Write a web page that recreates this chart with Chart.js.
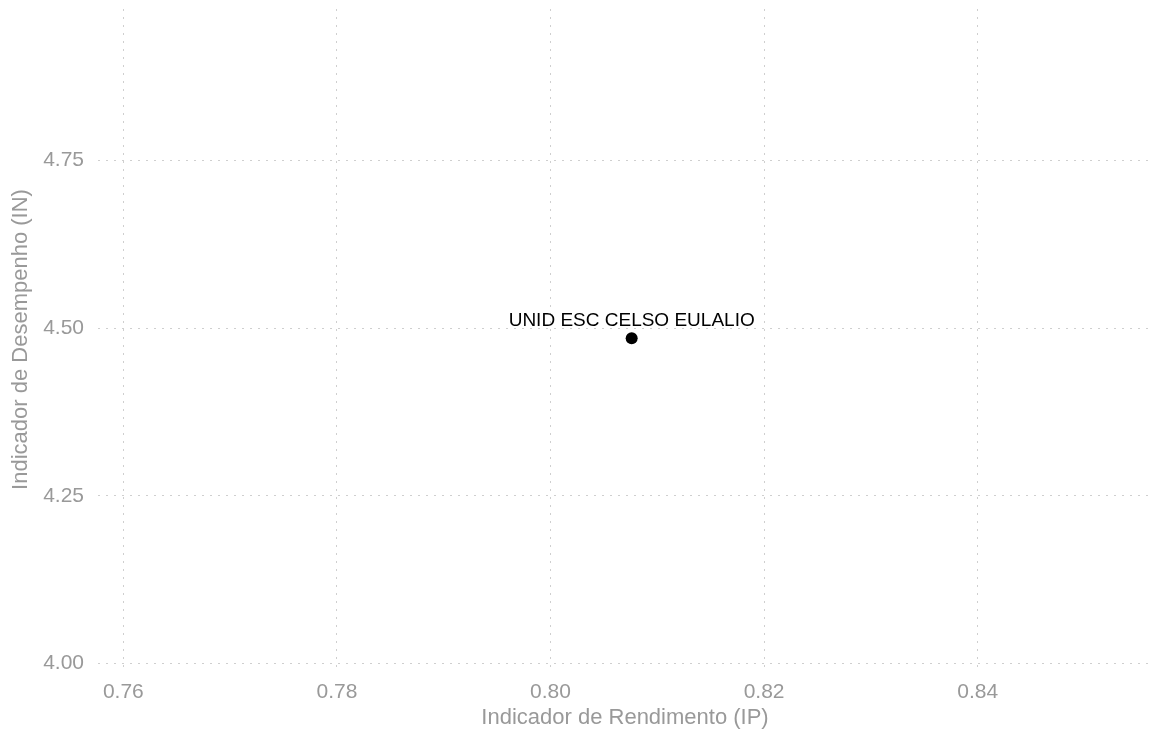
<!DOCTYPE html>
<html>
<head>
<meta charset="utf-8">
<script src="https://cdn.jsdelivr.net/npm/chart.js@4.4.1/dist/chart.umd.min.js"></script>
<style>
  html, body { margin: 0; padding: 0; background: #fff; }
  #wrap { width: 1152px; height: 731px; }
</style>
</head>
<body>
<div id="wrap"><canvas id="scatterChart" width="1152" height="731"></canvas></div>
<script>
  // Data
  const schoolNames = ['UNID ESC CELSO EULALIO'];
  const ipValues = [0.8076];   // Indicador de Rendimento (IP)
  const inValues = [4.485];    // Indicador de Desempenho (IN)

  const xTicks = [0.76, 0.78, 0.80, 0.82, 0.84];
  const yTicks = [4.00, 4.25, 4.50, 4.75];

  const xMin = 0.75763, xMax = 0.85632;
  const yMin = 3.9906, yMax = 4.9754;

  const greyText = '#999999';
  const gridColor = '#cfcfcf';
  const fontFamily = '"Liberation Sans", Arial, Helvetica, sans-serif';

  document.addEventListener('DOMContentLoaded', function() {
    initChart();
  });

  // draws the school name just above each point
  const pointLabels = {
    id: 'pointLabels',
    afterDatasetsDraw(chart) {
      const ctx = chart.ctx;
      const meta = chart.getDatasetMeta(0);
      ctx.save();
      ctx.font = '19px ' + fontFamily;
      ctx.fillStyle = '#000000';
      ctx.textAlign = 'center';
      ctx.textBaseline = 'alphabetic';
      meta.data.forEach((pt, i) => {
        ctx.fillText(schoolNames[i], pt.x, pt.y - 12);
      });
      ctx.restore();
    }
  };

  // no extra room for half labels at the ends of the axes
  function noEdgePadding(scale) {
    scale.paddingTop = 0;
    scale.paddingBottom = 0;
    scale.paddingLeft = 0;
    scale.paddingRight = 0;
  }

  function initChart() {
    const points = ipValues.map((v, i) => ({ x: v, y: inValues[i] }));
    const ctx = document.getElementById('scatterChart').getContext('2d');

    new Chart(ctx, {
      type: 'scatter',
      data: {
        datasets: [{
          data: points,
          backgroundColor: '#000000',
          borderWidth: 0,
          pointRadius: 6,
          pointHoverRadius: 6
        }]
      },
      options: {
        responsive: false,
        animation: false,
        layout: { autoPadding: false, padding: { top: 9, right: 0, bottom: 0, left: 0 } },
        plugins: {
          legend: { display: false },
          tooltip: { enabled: false }
        },
        scales: {
          x: {
            type: 'linear',
            min: xMin,
            max: xMax,
            afterBuildTicks: scale => { scale.ticks = xTicks.map(v => ({ value: v })); },
            afterFit: scale => { scale.height = 61; noEdgePadding(scale); },
            border: { display: false, dash: [2, 6] },
            grid: {
              color: gridColor,
              lineWidth: 1,
              drawTicks: false
            },
            ticks: {
              padding: 10,
              color: greyText,
              font: { family: fontFamily, size: 21 },
              callback: v => Number(v).toFixed(2)
            },
            title: {
              display: true,
              text: 'Indicador de Rendimento (IP)',
              color: greyText,
              font: { family: fontFamily, size: 22 },
              padding: { top: 0, bottom: 0 }
            }
          },
          y: {
            type: 'linear',
            min: yMin,
            max: yMax,
            afterBuildTicks: scale => { scale.ticks = yTicks.map(v => ({ value: v })); },
            afterFit: scale => { scale.width = 98; noEdgePadding(scale); },
            border: { display: false, dash: [2, 6] },
            grid: {
              color: gridColor,
              lineWidth: 1,
              drawTicks: false
            },
            ticks: {
              padding: 14,
              color: greyText,
              font: { family: fontFamily, size: 21 },
              callback: v => Number(v).toFixed(2)
            },
            title: {
              display: true,
              text: 'Indicador de Desempenho (IN)',
              color: greyText,
              font: { family: fontFamily, size: 22 },
              padding: { top: 8, bottom: 0 }
            }
          }
        }
      },
      plugins: [pointLabels]
    });
  }
</script>
</body>
</html>
